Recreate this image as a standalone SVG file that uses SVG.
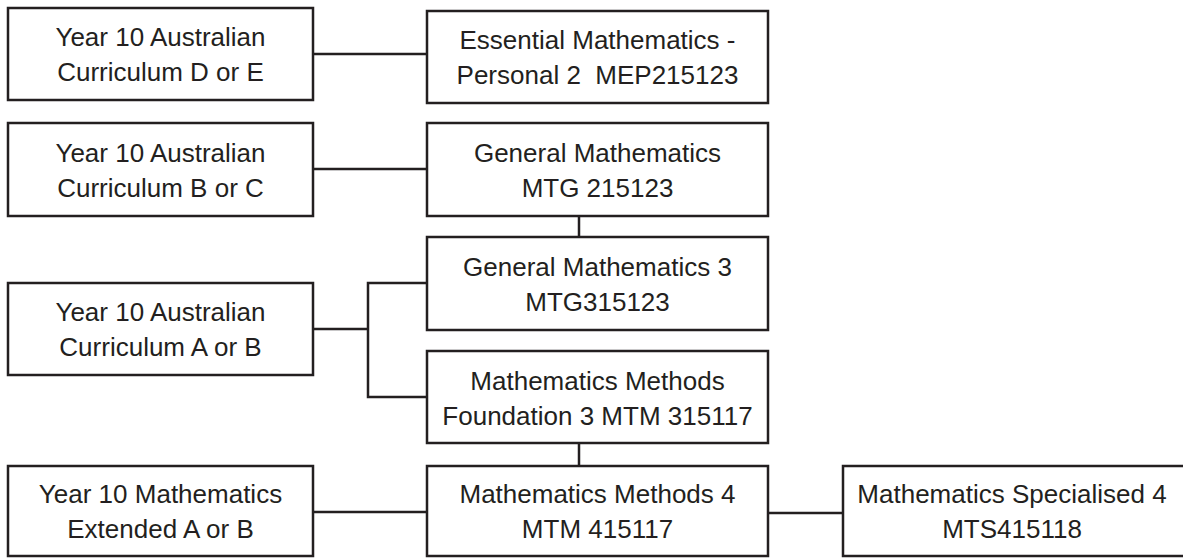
<svg xmlns="http://www.w3.org/2000/svg" width="1183" height="558" viewBox="0 0 1183 558">
<style>
.box{fill:#ffffff;stroke:#231f20;stroke-width:2.5}
.conn{fill:none;stroke:#231f20;stroke-width:2.5}
text{font-family:"Liberation Sans",Arial,sans-serif;font-size:26px;fill:#231f20;text-anchor:middle}
</style>
<rect width="1183" height="558" fill="#ffffff"/>
<g id="connectors">
<path class="conn" d="M313,54H427"/>
<path class="conn" d="M313,169H427"/>
<path class="conn" d="M579,216V237"/>
<path class="conn" d="M313,329H368M427,283H368V397H427"/>
<path class="conn" d="M579,443V466"/>
<path class="conn" d="M313,512H427"/>
<path class="conn" d="M768,513H843"/>
</g>
<g id="node-y10-de">
<rect class="box" x="8" y="8" width="305" height="92"/>
<text x="160.5" y="46">Year 10 Australian</text>
<text x="160.5" y="81">Curriculum D or E</text>
</g>
<g id="node-y10-bc">
<rect class="box" x="8" y="123" width="305" height="93"/>
<text x="160.5" y="161.5">Year 10 Australian</text>
<text x="160.5" y="196.5">Curriculum B or C</text>
</g>
<g id="node-y10-ab">
<rect class="box" x="8" y="283" width="305" height="92"/>
<text x="160.5" y="321">Year 10 Australian</text>
<text x="160.5" y="356">Curriculum A or B</text>
</g>
<g id="node-y10-ext">
<rect class="box" x="8" y="466" width="305" height="90"/>
<text x="160.5" y="503">Year 10 Mathematics</text>
<text x="160.5" y="538">Extended A or B</text>
</g>
<g id="node-mep">
<rect class="box" x="427" y="11" width="341" height="92"/>
<text x="597.5" y="49">Essential Mathematics -</text>
<text x="597.5" y="84" xml:space="preserve">Personal 2  MEP215123</text>
</g>
<g id="node-mtg2">
<rect class="box" x="427" y="123" width="341" height="93"/>
<text x="597.5" y="161.5">General Mathematics</text>
<text x="597.5" y="196.5">MTG 215123</text>
</g>
<g id="node-mtg3">
<rect class="box" x="427" y="237" width="341" height="93"/>
<text x="597.5" y="275.5">General Mathematics 3</text>
<text x="597.5" y="310.5">MTG315123</text>
</g>
<g id="node-mtm3">
<rect class="box" x="427" y="351" width="341" height="92"/>
<text x="597.5" y="390">Mathematics Methods</text>
<text x="597.5" y="425">Foundation 3 MTM 315117</text>
</g>
<g id="node-mtm4">
<rect class="box" x="427" y="466" width="341" height="90"/>
<text x="597.5" y="503">Mathematics Methods 4</text>
<text x="597.5" y="538">MTM 415117</text>
</g>
<g id="node-mts4">
<rect class="box" x="843" y="466" width="345" height="90"/>
<text x="1012" y="503">Mathematics Specialised 4</text>
<text x="1012" y="538">MTS415118</text>
</g>
</svg>
